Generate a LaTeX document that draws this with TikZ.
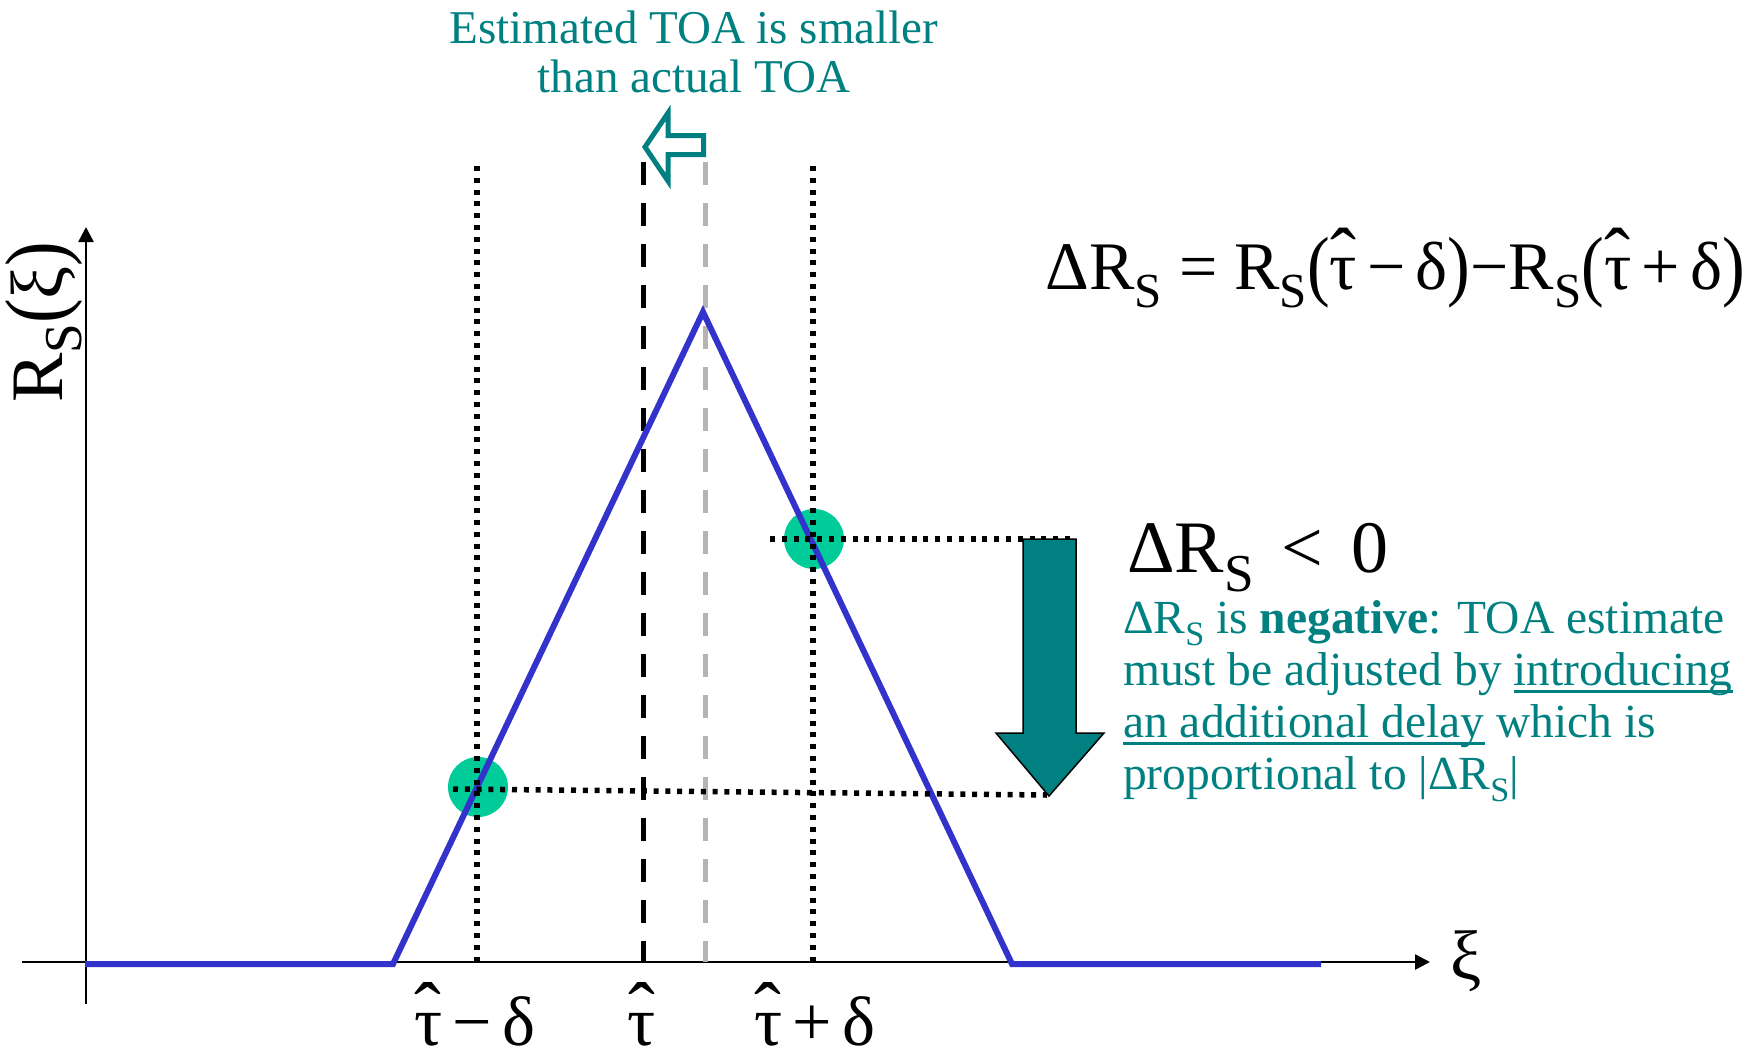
\documentclass[tikz,border=0pt]{standalone}
\usepackage{fontspec}
\setmainfont{Liberation Serif}
\usepackage{graphicx}
\usetikzlibrary{arrows.meta}
\definecolor{teal1}{RGB}{0,128,128}
\definecolor{markgreen}{RGB}{0,204,153}
\definecolor{curveblue}{RGB}{51,51,204}
\definecolor{lightgray1}{RGB}{180,180,180}
\newcommand{\tauhat}{\ooalign{τ\cr\hidewidth\raisebox{0.1em}{\scalebox{1.15}{ˆ}}\hidewidth\cr}}
\newcommand{\subS}{\raisebox{-0.27em}{\scalebox{0.72}{S}}}
\newcommand{\lp}{\raisebox{-0.04em}{\scalebox{1}[1.15]{(}}}
\newcommand{\rp}{\raisebox{-0.04em}{\scalebox{1}[1.15]{)}}}
\newlength{\ulen}
\newcommand{\myul}[1]{\settowidth{\ulen}{#1}\rlap{\rule[-0.16em]{\ulen}{0.055em}}#1}
\begin{document}
\begin{tikzpicture}[x=1pt,y=-1pt,
  axis/.style={line width=2.6pt,-{Triangle[length=15pt,width=15pt]}},
  curve/.style={draw=curveblue,line width=6pt,line join=miter},
  dotline/.style={line width=5.5pt,dash pattern=on 5pt off 6.8pt},
  dashblack/.style={line width=5pt,dash pattern=on 23pt off 18pt},
  dashgray/.style={dashblack,draw=lightgray1},
  marker/.style={circle,fill=markgreen,minimum size=60pt,inner sep=0pt},
  lbl/.style={inner sep=0pt,font=\fontsize{70}{76}\selectfont},
  tealtxt/.style={inner sep=0pt,text=teal1,font=\fontsize{47.5}{52}\selectfont},
  bigarrow/.style={fill=teal1,draw=black,line width=1.5pt,line join=miter},
  hollowarrow/.style={fill=white,draw=teal1,line width=5pt,line join=miter}
]
\useasboundingbox (0,0) rectangle (1759,1055);

% axes
\coordinate (xs) at (22,962);
\coordinate (xe) at (1430,962);
\coordinate (ys) at (86,1004);
\coordinate (ye) at (86,227);
\draw[axis] (xs) -- (xe);
\draw[axis] (ys) -- (ye);

% markers
\node[marker] (c1) at (478,787) {};
\node[marker] (c2) at (814,539) {};

% vertical reference lines
\coordinate (vdlt) at (477,166); \coordinate (vdlb) at (477,962);
\coordinate (vdrt) at (813,166); \coordinate (vdrb) at (813,962);
\coordinate (vbt) at (643,162);  \coordinate (vbb) at (643,962);
\coordinate (vgt) at (705,162);  \coordinate (vgb) at (705,962);
\draw[dashblack] (vbt) -- (vbb);
\draw[dashgray] (vgt) -- (vgb);

% correlation curve
\coordinate (p0) at (85,964);
\coordinate (p1) at (393,964);
\coordinate (p2) at (703,312);
\coordinate (p3) at (1012,964);
\coordinate (p4) at (1321,964);
\draw[curve] (p0) -- (p1) -- (p2) -- (p3) -- (p4);

% dotted lines
\draw[dotline] (vdlt) -- (vdlb);
\draw[dotline] (vdrt) -- (vdrb);
\coordinate (hus) at (770,539); \coordinate (hue) at (1073,539);
\coordinate (hls) at (453,789); \coordinate (hle) at (1047,795);
\draw[dotline] (hus) -- (hue);
\draw[dotline] (hls) -- (hle);

% big down arrow
\draw[bigarrow] (1023,539) -- (1076,539) -- (1076,733) -- (1104,733) -- (1049,796) -- (996,733) -- (1023,733) -- cycle;

% hollow left arrow
\draw[hollowarrow] (645,147) -- (668,113) -- (668,135.5) -- (703.5,135.5) -- (703.5,154.5) -- (668,154.5) -- (668,181) -- cycle;

% texts
\node[tealtxt,anchor=base,font=\fontsize{47}{50}\selectfont] (t1) at (694,43) {Estimated TOA is smaller};
\node[tealtxt,anchor=base,font=\fontsize{47}{50}\selectfont] (t2) at (694,92) {than actual TOA};

\node[lbl,anchor=base east,font=\fontsize{68}{74}\selectfont] (eq) at (1745,289) {ΔR\subS\hspace{0.25em}=\hspace{0.25em}R\subS\lp\tauhat\hspace{0.15em}−\hspace{0.15em}δ\rp−R\subS\lp\tauhat\hspace{0.15em}+\hspace{0.15em}δ\rp};

\node[lbl,anchor=base west,font=\fontsize{74}{80}\selectfont] (neg) at (1127,572) {ΔR\subS\hspace{0.38em}<\hspace{0.38em}0};

\node[tealtxt,anchor=base west] (d1) at (1123,633) {ΔR\subS{} is \textbf{negative}: TOA estimate};
\node[tealtxt,anchor=base west] (d2) at (1123,685) {must be adjusted by \myul{introducing}};
\node[tealtxt,anchor=base west] (d3) at (1123,737) {\myul{an additional delay} which is};
\node[tealtxt,anchor=base west] (d4) at (1123,789) {proportional to |ΔR\subS|};

\node[lbl,anchor=base,rotate=90,font=\fontsize{74}{78}\selectfont] (ylab) at (62,322) {R\subS\lp ξ\rp};
\node[lbl,anchor=center] (xlab) at (1466,961) {ξ};

\node[lbl,anchor=base] (l1) at (475,1045) {\tauhat\hspace{0.15em}−\hspace{0.15em}δ};
\node[lbl,anchor=base] (l2) at (642,1045) {\tauhat};
\node[lbl,anchor=base] (l3) at (815,1045) {\tauhat\hspace{0.15em}+\hspace{0.15em}δ};
\end{tikzpicture}
\end{document}
